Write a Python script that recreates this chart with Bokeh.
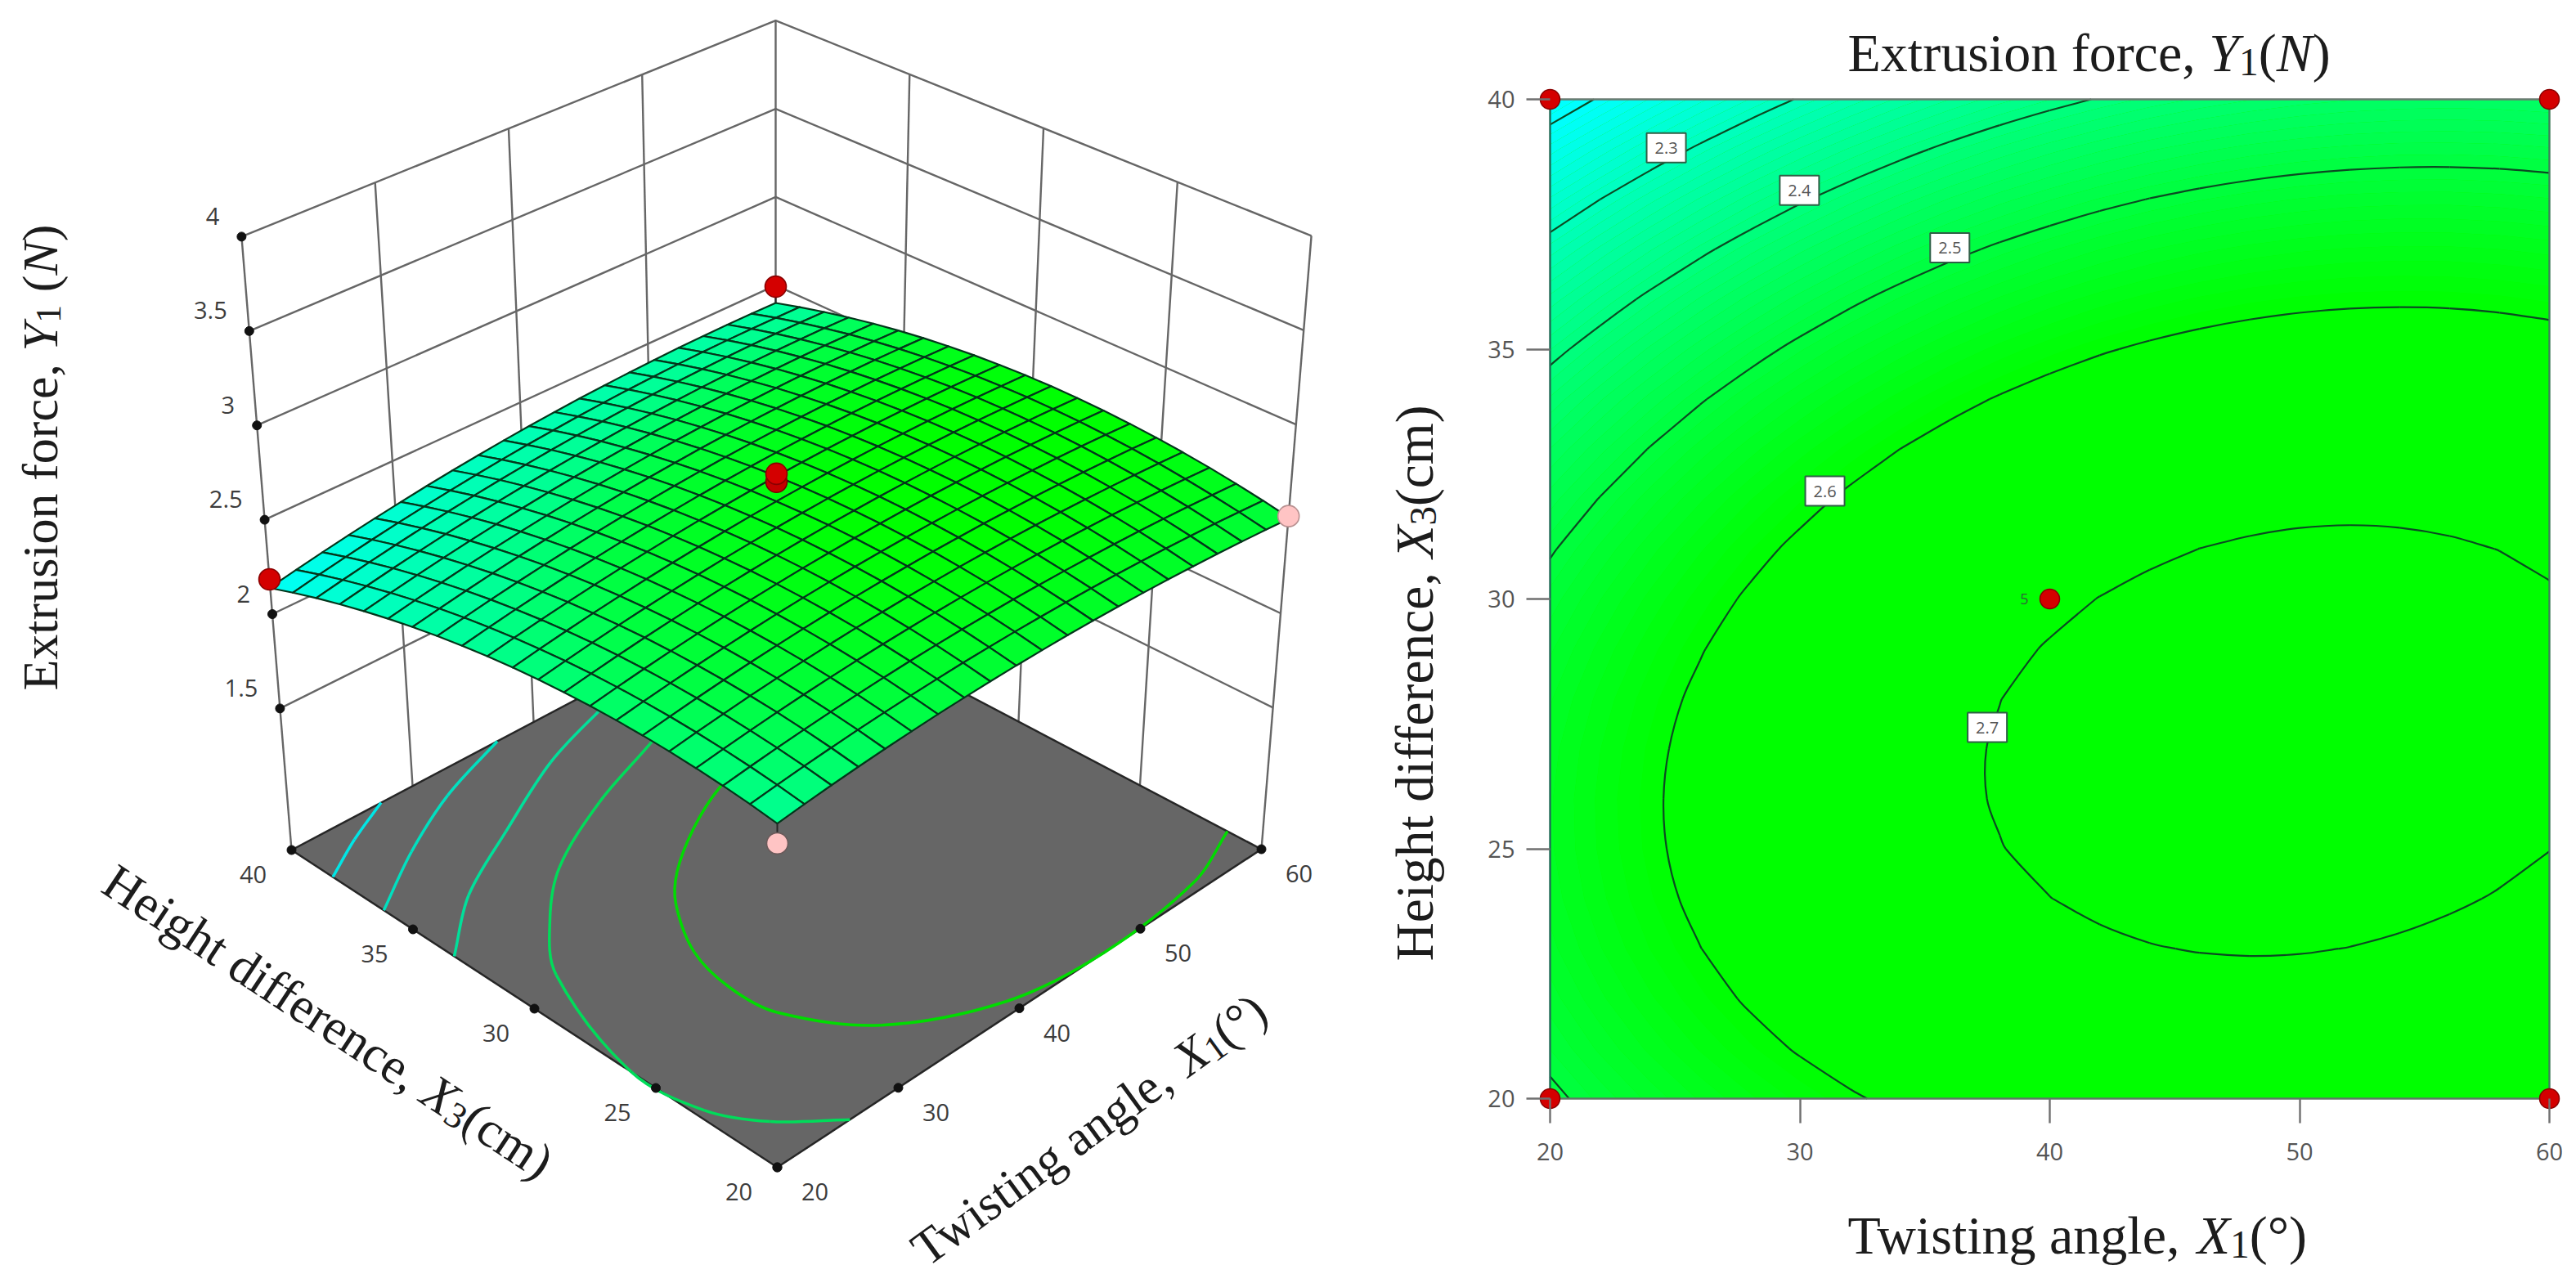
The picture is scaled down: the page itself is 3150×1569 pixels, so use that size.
import math
from bokeh.core.properties import value
from bokeh.embed import file_html
from bokeh.layouts import row
from bokeh.models import FixedTicker, LinearAxis, Range1d
from bokeh.plotting import figure
from bokeh.plotting.contour import contour_data
from bokeh.resources import INLINE

# ---------------- data ----------------
x1_grid = [20, 22, 24, 26, 28, 30, 32, 34, 36, 38, 40, 42, 44, 46, 48, 50, 52, 54, 56, 58, 60]
x3_grid = [20, 21, 22, 23, 24, 25, 26, 27, 28, 29, 30, 31, 32, 33, 34, 35, 36, 37, 38, 39, 40]
force_x3_20 = [2.4918,2.5133,2.5332,2.5513,2.5679,2.5827,2.5960,2.6075,2.6175,2.6257,2.6323,2.6373,2.6405,2.6421,2.6420,2.6403,2.6369,2.6319,2.6252,2.6169,2.6068]
force_x3_21 = [2.5104,2.5323,2.5525,2.5711,2.5880,2.6032,2.6168,2.6287,2.6391,2.6477,2.6546,2.6599,2.6635,2.6655,2.6658,2.6644,2.6614,2.6567,2.6505,2.6425,2.6328]
force_x3_22 = [2.5252,2.5475,2.5681,2.5870,2.6043,2.6199,2.6339,2.6462,2.6569,2.6659,2.6732,2.6789,2.6829,2.6852,2.6859,2.6849,2.6823,2.6780,2.6721,2.6645,2.6552]
force_x3_23 = [2.5365,2.5592,2.5801,2.5994,2.6171,2.6330,2.6474,2.6601,2.6712,2.6805,2.6882,2.6943,2.6986,2.7013,2.7024,2.7018,2.6995,2.6956,2.6901,2.6828,2.6739]
force_x3_24 = [2.5442,2.5672,2.5886,2.6082,2.6263,2.6426,2.6573,2.6704,2.6818,2.6916,2.6996,2.7060,2.7108,2.7138,2.7153,2.7150,2.7131,2.7096,2.7044,2.6976,2.6890]
force_x3_25 = [2.5482,2.5716,2.5933,2.6134,2.6318,2.6485,2.6636,2.6770,2.6889,2.6990,2.7074,2.7142,2.7193,2.7228,2.7246,2.7247,2.7232,2.7200,2.7153,2.7088,2.7006]
force_x3_26 = [2.5486,2.5724,2.5945,2.6149,2.6337,2.6507,2.6662,2.6800,2.6922,2.7027,2.7115,2.7187,2.7242,2.7280,2.7302,2.7307,2.7295,2.7267,2.7223,2.7162,2.7084]
force_x3_27 = [2.5455,2.5697,2.5921,2.6129,2.6320,2.6495,2.6654,2.6795,2.6921,2.7029,2.7121,2.7197,2.7255,2.7297,2.7322,2.7331,2.7324,2.7299,2.7259,2.7201,2.7127]
force_x3_28 = [2.5388,2.5633,2.5862,2.6073,2.6268,2.6446,2.6609,2.6754,2.6883,2.6996,2.7091,2.7170,2.7233,2.7278,2.7307,2.7320,2.7316,2.7295,2.7258,2.7205,2.7134]
force_x3_29 = [2.5282,2.5531,2.5763,2.5978,2.6177,2.6359,2.6526,2.6675,2.6808,2.6924,2.7023,2.7106,2.7172,2.7221,2.7254,2.7271,2.7271,2.7254,2.7221,2.7171,2.7104]
force_x3_30 = [2.5142,2.5395,2.5631,2.5849,2.6052,2.6238,2.6408,2.6561,2.6697,2.6817,2.6920,2.7007,2.7077,2.7129,2.7166,2.7186,2.7190,2.7177,2.7147,2.7101,2.7038]
force_x3_31 = [2.4966,2.5222,2.5462,2.5684,2.5891,2.6080,2.6254,2.6410,2.6551,2.6674,2.6781,2.6872,2.6945,2.7002,2.7042,2.7066,2.7073,2.7064,2.7038,2.6996,2.6936]
force_x3_32 = [2.4752,2.5012,2.5256,2.5482,2.5692,2.5885,2.6063,2.6223,2.6367,2.6495,2.6605,2.6699,2.6777,2.6837,2.6881,2.6909,2.6920,2.6914,2.6892,2.6854,2.6798]
force_x3_33 = [2.4503,2.4767,2.5014,2.5244,2.5458,2.5655,2.5836,2.6000,2.6148,2.6279,2.6393,2.6491,2.6572,2.6636,2.6684,2.6715,2.6730,2.6728,2.6710,2.6675,2.6623]
force_x3_34 = [2.4218,2.4486,2.4736,2.4970,2.5188,2.5388,2.5573,2.5741,2.5893,2.6027,2.6145,2.6247,2.6331,2.6399,2.6451,2.6486,2.6504,2.6506,2.6492,2.6460,2.6412]
force_x3_35 = [2.3895,2.4166,2.4421,2.4658,2.4880,2.5084,2.5273,2.5444,2.5600,2.5738,2.5860,2.5966,2.6054,2.6126,2.6181,2.6220,2.6242,2.6248,2.6237,2.6210,2.6165]
force_x3_36 = [2.3538,2.3813,2.4071,2.4313,2.4538,2.4746,2.4938,2.5113,2.5273,2.5415,2.5540,2.5649,2.5741,2.5817,2.5876,2.5918,2.5944,2.5953,2.5947,2.5923,2.5882]
force_x3_37 = [2.3145,2.3424,2.3686,2.3931,2.4160,2.4371,2.4567,2.4746,2.4909,2.5055,2.5184,2.5297,2.5393,2.5472,2.5535,2.5581,2.5610,2.5623,2.5620,2.5600,2.5563]
force_x3_38 = [2.2716,2.2999,2.3264,2.3513,2.3745,2.3961,2.4161,2.4343,2.4510,2.4659,2.4792,2.4909,2.5008,2.5091,2.5157,2.5207,2.5241,2.5257,2.5258,2.5241,2.5208]
force_x3_39 = [2.2248,2.2534,2.2804,2.3056,2.3293,2.3512,2.3715,2.3902,2.4072,2.4226,2.4362,2.4482,2.4586,2.4672,2.4743,2.4796,2.4833,2.4854,2.4858,2.4846,2.4816]
force_x3_40 = [2.1746,2.2036,2.2309,2.2565,2.2805,2.3028,2.3236,2.3426,2.3600,2.3757,2.3897,2.4021,2.4128,2.4218,2.4292,2.4350,2.4391,2.4415,2.4423,2.4414,2.4388]
force_table = [force_x3_20, force_x3_21, force_x3_22, force_x3_23, force_x3_24, force_x3_25, force_x3_26,
               force_x3_27, force_x3_28, force_x3_29, force_x3_30, force_x3_31, force_x3_32, force_x3_33,
               force_x3_34, force_x3_35, force_x3_36, force_x3_37, force_x3_38, force_x3_39, force_x3_40]

x1_ticks = [20, 30, 40, 50, 60]
x3_ticks = [20, 25, 30, 35, 40]
y_ticks = [1.5, 2, 2.5, 3, 3.5, 4]
y_tick_text = ["1.5", "2", "2.5", "3", "3.5", "4"]
y_floor = 0.75

contour_levels = [2.2, 2.3, 2.4, 2.5, 2.6, 2.7]
label_levels = ["2.3", "2.4", "2.5", "2.6", "2.7"]
label_x1 = [24.65, 29.98, 36.0, 31.0, 37.5]
label_x3 = [39.03, 38.18, 37.03, 32.16, 27.43]

design_x1 = [20, 20, 60, 60, 40]
design_x3 = [20, 40, 20, 40, 30]

points3d_x1 = [60, 20, 60, 20, 40, 40]
points3d_x3 = [40, 20, 20, 40, 30, 30]
points3d_y = [2.492, 2.38, 2.515, 2.184, 2.787, 2.83]
points3d_fill = ["#d40000", "#ffc4c4", "#ffc4c4", "#d40000", "#c40000", "#d40000"]
points3d_line = ["#8a0000", "#6a5a5a", "#b89090", "#8a0000", "#7a0000", "#8a0000"]
stem_index = [0, 1, 2, 3]

floor_x1_a = [20.0, 23.6, 27.4]
floor_x3_a = [38.3, 39.2, 40.0]
floor_x1_b = [20.0, 25.3, 30.9, 37.0]
floor_x3_b = [36.2, 37.7, 39.0, 40.0]
floor_x1_c = [20.0, 24.8, 30.9, 37.8, 43.5, 48.6]
floor_x3_c = [33.3, 35.1, 36.6, 38.2, 39.1, 39.7]
floor_x1_d = [50.3, 43.4, 37.0, 30.7, 26.7, 23.2, 20.0, 20.6, 22.6, 26.0]
floor_x3_d = [38.2, 36.9, 35.8, 34.3, 32.7, 30.7, 26.0, 23.3, 21.6, 20.0]
floor_x1_e = [46.9, 43.1, 39.2, 35.4, 33.1, 30.6, 29.7, 30.0, 33.4, 40.0, 47.0, 55.3, 60.0]
floor_x3_e = [34.4, 33.9, 33.0, 31.8, 30.7, 28.7, 26.8, 25.0, 22.4, 20.5, 20.0, 20.4, 21.4]
floor_colors = ["#00e6e6", "#00e0c0", "#00e09a", "#00dc5a", "#00dc00"]

# colour steps of the surface and of the filled contours
surface_steps_y = [2.17, 2.30, 2.50, 2.60, 2.70, 2.72]
surface_steps_b = [255, 215, 150, 70, 10, 0]

# ---------------- style ----------------
SERIF = "Liberation Serif"
SANS = "Open Sans"
BASE_FIX = 0.30
WIDE = dict(zip("Twisngale,HhdfrcmExuoXYN1()° ",
                [.611, .722, .278, .389, .5, .5, .444, .278, .444, .25, .722, .5, .5, .333, .333,
                 .444, .778, .611, .5, .5, .5, .611, .556, .667, .5, .333, .333, .4, .25]))
WIDE["t"] = .278


def green_hex(y):
    return "#00ff%02x" % int(max(0, min(255, 255 * (2.6 - y) / 0.4)))


def surface_hex(y):
    s, b = surface_steps_y, surface_steps_b
    if y <= s[0]:
        return "#00ff%02x" % b[0]
    for k in range(len(s) - 1):
        if y <= s[k + 1]:
            t = (y - s[k]) / (s[k + 1] - s[k])
            return "#00ff%02x" % int(b[k] + t * (b[k + 1] - b[k]))
    return "#00ff00"


def text_runs(fig, x, y, deg, items, size, fx=lambda v: v, fy=lambda v: v):
    th = math.radians(deg)
    adv = 0.0
    for txt, style, scale, drop in items:
        s = size * scale
        d = (drop - BASE_FIX) * size
        px = x + adv * math.cos(th) + d * math.sin(th)
        py = y - adv * math.sin(th) + d * math.cos(th)
        if txt.strip():
            fig.text(x=[fx(px)], y=[fy(py)], text=[txt], angle=[th], text_font=value(SERIF),
                     text_font_size=value(f"{s:.1f}px"), text_font_style=style, text_color="#1c1c1c",
                     text_align="left", text_baseline="alphabetic")
        adv += sum(WIDE.get(c, .5) for c in txt) * s


REG, ITA, SUB = ("normal", 1, 0), ("italic", 1, 0), ("normal", .72, .17)


def run(t, kind):
    return (t, kind[0], kind[1], kind[2])


def smooth_segments(pts):
    """Bezier pieces that pass through every read point."""
    n = len(pts)
    tang = []
    for i in range(n):
        a, b = pts[max(i - 1, 0)], pts[min(i + 1, n - 1)]
        dx_, dy_ = b[0] - a[0], b[1] - a[1]
        ln = math.hypot(dx_, dy_) or 1
        tang.append((dx_ / ln, dy_ / ln))
    out = []
    for i in range(n - 1):
        p, q = pts[i], pts[i + 1]
        ln = math.hypot(q[0] - p[0], q[1] - p[1]) / 3
        out.append((p, q, (p[0] + tang[i][0] * ln, p[1] + tang[i][1] * ln),
                    (q[0] - tang[i + 1][0] * ln, q[1] - tang[i + 1][1] * ln)))
    return out


# ---------------- left: projected response surface ----------------
PERSP = 0.066


def uv(x1, x3):
    return (x1 - 20) / 40, (x3 - 20) / 20


def floor_xy(u, v):
    return 950 + 592 * u - 594 * v, 1427 - 389 * u - 388 * v + 76 * u * v


def wall_xy(x1, x3, y):
    u, v = uv(x1, x3)
    fx, fy = floor_xy(u, v)
    rate = 243 - 12.2 * u - 12.2 * v - 2.8 * u * v
    return fx + (u - v) * 18.8 * (y - y_floor), fy - rate * (y - y_floor)


def surf_xy(x1, x3, y):
    u, v = uv(x1, x3)
    u2 = u * (1 + PERSP) / (1 + PERSP * u)
    v2 = v * (1 + PERSP) / (1 + PERSP * v)
    fx, fy = floor_xy(u2, v2)
    rate = 241.4 - 23.4 * u2 - 16.4 * v2 + 9.2 * u2 * v2
    return fx + (u2 - v2) * 18.8 * (y - y_floor), fy - rate * (y - y_floor)


left = figure(width=1680, height=1565, x_range=Range1d(0, 1680), y_range=Range1d(1565, 0),
              x_axis_type=None, y_axis_type=None, toolbar_location=None, output_backend="svg",
              min_border=0, outline_line_color=None, background_fill_color="white", border_fill_color="white")
left.grid.visible = False

WALL = "#666666"
seg_x, seg_y = [], []
for yt in y_ticks:
    a, b, c = wall_xy(20, 40, yt), wall_xy(60, 40, yt), wall_xy(60, 20, yt)
    seg_x += [[a[0], b[0], c[0]]]
    seg_y += [[a[1], b[1], c[1]]]
for t in x1_ticks:
    a, b = wall_xy(t, 40, y_floor), wall_xy(t, 40, 4)
    seg_x.append([a[0], b[0]]); seg_y.append([a[1], b[1]])
for t in x3_ticks[:-1]:
    a, b = wall_xy(60, t, y_floor), wall_xy(60, t, 4)
    seg_x.append([a[0], b[0]]); seg_y.append([a[1], b[1]])
left.multi_line(seg_x, seg_y, line_color=WALL, line_width=2.4)

corners = [floor_xy(0, 0), floor_xy(1, 0), floor_xy(1, 1), floor_xy(0, 1)]
left.patch([c[0] for c in corners], [c[1] for c in corners], fill_color="#666666", line_color="#262626", line_width=2.5)

for xs3, col in zip([(floor_x1_a, floor_x3_a), (floor_x1_b, floor_x3_b), (floor_x1_c, floor_x3_c),
                     (floor_x1_d, floor_x3_d), (floor_x1_e, floor_x3_e)], floor_colors):
    pts = [floor_xy(*uv(a, b)) for a, b in zip(*xs3)]
    seg = smooth_segments(pts)
    left.bezier([s[0][0] for s in seg], [s[0][1] for s in seg], [s[1][0] for s in seg], [s[1][1] for s in seg],
                [s[2][0] for s in seg], [s[2][1] for s in seg], [s[3][0] for s in seg], [s[3][1] for s in seg],
                line_color=col, line_width=3.5)

# tick dots + tick labels
dots = [wall_xy(20, 40, y) for y in y_ticks] + [floor_xy(*uv(t, 20)) for t in x1_ticks] + \
       [floor_xy(*uv(20, t)) for t in x3_ticks]
left.scatter([d[0] for d in dots], [d[1] for d in dots], size=11, fill_color="#111111", line_color="#111111")

TICK = "#3c3c3c"
pos = [wall_xy(20, 40, y) for y in y_ticks]
left.text([p[0] - 27 for p in pos], [p[1] - 25 for p in pos], text=y_tick_text, text_font=value(SANS),
          text_font_size="29px", text_color=TICK, text_align="right", text_baseline="middle")
pos = [floor_xy(*uv(t, 20)) for t in x1_ticks]
left.text([p[0] + 46 for p in pos], [p[1] + 30 for p in pos], text=[str(t) for t in x1_ticks], text_font=value(SANS),
          text_font_size="29px", text_color=TICK, text_align="center", text_baseline="middle")
pos = [floor_xy(*uv(20, t)) for t in x3_ticks]
left.text([p[0] - 47 for p in pos], [p[1] + 30 for p in pos], text=[str(t) for t in x3_ticks], text_font=value(SANS),
          text_font_size="29px", text_color=TICK, text_align="center", text_baseline="middle")

# surface mesh, painted from the back corner to the front corner
qx, qy, qc = [], [], []
for j in range(len(x3_grid) - 2, -1, -1):
    for i in range(len(x1_grid) - 2, -1, -1):
        ids = [(i, j), (i + 1, j), (i + 1, j + 1), (i, j + 1)]
        pts = [surf_xy(x1_grid[a], x3_grid[b], force_table[b][a]) for a, b in ids]
        qx.append([p[0] for p in pts]); qy.append([p[1] for p in pts])
        qc.append(surface_hex(sum(force_table[b][a] for a, b in ids) / 4))
left.patches(qx, qy, fill_color=qc, line_color="#03361b", line_width=2.2, line_join="round")

# design points with their short stems to the surface
px, py = [], []
for a, b, y in zip(points3d_x1, points3d_x3, points3d_y):
    p = wall_xy(a, b, y)
    px.append(p[0]); py.append(p[1])
sx0, sy0, sx1, sy1 = [], [], [], []
for k in stem_index:
    a, b = points3d_x1[k], points3d_x3[k]
    q = surf_xy(a, b, force_table[x3_grid.index(b)][x1_grid.index(a)])
    sx0.append(px[k]); sy0.append(py[k]); sx1.append(q[0]); sy1.append(q[1])
left.segment(sx0, sy0, sx1, sy1, line_color="#262626", line_width=2)
left.scatter(px, py, size=26, fill_color=points3d_fill, line_color=points3d_line, line_width=1.6)

text_runs(left, 67, 844, 90, [run("Extrusion force, ", REG), run("Y", ITA), run("1", SUB), run(" ", REG), run("(", REG),
                              run("N", ITA), run(")", REG)], 62)
text_runs(left, 122, 1087, -33.4, [run("Height difference, ", REG), run("X", ITA), run("3", SUB), run("(cm)", REG)], 62)
text_runs(left, 1132, 1548, 36.0, [run("Twisting angle, ", REG), run("X", ITA), run("1", SUB), run("(°)", REG)], 61)

# ---------------- right: contour plot ----------------
PX_L, PX_R, PY_T, PY_B = 1895, 3117, 121, 1343


def dx(px):
    return 20 + (px - PX_L) * 40 / (PX_R - PX_L)


def dy(py):
    return 20 + (PY_B - py) * 20 / (PY_B - PY_T)


def sx(x):
    return PX_L + (x - 20) * (PX_R - PX_L) / 40


def sy(y):
    return PY_B - (y - 20) * (PY_B - PY_T) / 20


right = figure(width=1466, height=1565, x_range=Range1d(dx(1680), dx(3146)), y_range=Range1d(dy(1565), dy(0)),
               x_axis_type=None, y_axis_type=None, toolbar_location=None, output_backend="svg",
               min_border=0, outline_line_color=None, background_fill_color="white", border_fill_color="white")
right.grid.visible = False

right.quad(left=[20], right=[60], bottom=[20], top=[40], fill_color="#00ff00", line_color=None)
fill_levels = [2.17 + 0.01 * k for k in range(58)]
fill_cols = [green_hex(v + 0.005) for v in fill_levels[:-1]]
right.contour(x1_grid, x3_grid, force_table, fill_levels, fill_color=fill_cols, line_color=None)

lines = contour_data(x1_grid, x3_grid, force_table, contour_levels, want_fill=False, want_line=True).line_data
for xs, ys in zip(lines.xs, lines.ys):
    piece = []
    for a, b in list(zip(xs, ys)) + [(float("nan"), float("nan"))]:
        if math.isnan(a):
            if len(piece) > 1:
                seg = smooth_segments([(sx(p), sy(q)) for p, q in piece])
                right.bezier([dx(s[0][0]) for s in seg], [dy(s[0][1]) for s in seg],
                             [dx(s[1][0]) for s in seg], [dy(s[1][1]) for s in seg],
                             [dx(s[2][0]) for s in seg], [dy(s[2][1]) for s in seg],
                             [dx(s[3][0]) for s in seg], [dy(s[3][1]) for s in seg],
                             line_color="#0b4a22", line_width=2.2)
            piece = []
        else:
            piece.append((float(a), float(b)))

right.line([20, 60], [40, 40], line_color="#6a7a70", line_width=2.4)
right.line([60, 60], [20, 40], line_color="#3f7a5a", line_width=2.4)
right.line([20, 20], [20, 40], line_color="#1f6a55", line_width=2.4)
right.line([20, 60], [20, 20], line_color="#5f7a66", line_width=2.4)

for axis, side in [(LinearAxis(ticker=FixedTicker(ticks=x1_ticks), fixed_location=20, bounds=(20, 60),
                               major_label_standoff=24, major_tick_out=30), "below"),
                   (LinearAxis(ticker=FixedTicker(ticks=x3_ticks), fixed_location=20, bounds=(20, 40),
                               major_label_standoff=14, major_tick_out=29), "left")]:
    axis.major_tick_in = 0
    axis.minor_tick_line_color = None
    axis.axis_line_color = None
    axis.major_tick_line_color = "#707070"
    axis.major_tick_line_width = 2.4
    axis.major_label_text_font = SANS
    axis.major_label_text_font_size = "29px"
    axis.major_label_text_color = "#555555"
    right.add_layout(axis, side)

right.rect(label_x1, label_x3, width=48, height=36, width_units="screen", height_units="screen",
           fill_color="white", line_color="#2f5f46", line_width=2)
right.text(label_x1, label_x3, text=label_levels, text_font=value(SANS), text_font_size="20px",
           text_color="#555555", text_align="center", text_baseline="middle")

right.scatter(design_x1, design_x3, size=24, fill_color="#d40000", line_color="#8a0000", line_width=1.5)
right.text([40], [30], text=["5"], x_offset=[-31], text_font=value(SANS), text_font_size="18px",
           text_color="#2f5f3a", text_align="center", text_baseline="middle")

text_runs(right, 2259, 84, 0, [run("Extrusion force, ", REG), run("Y", ITA), run("1", SUB), run("(", REG),
                               run("N", ITA), run(")", REG)], 66, dx, dy)
text_runs(right, 2259, 1530, 0, [run("Twisting angle, ", REG), run("X", ITA), run("1", SUB), run("(°)", REG)], 66, dx, dy)
text_runs(right, 1749, 1175, 90, [run("Height difference, ", REG), run("X", ITA), run("3", SUB), run("(cm)", REG)], 65.5, dx, dy)

page = row(left, right, spacing=0)
open("out.html", "w").write(file_html(page, INLINE))
